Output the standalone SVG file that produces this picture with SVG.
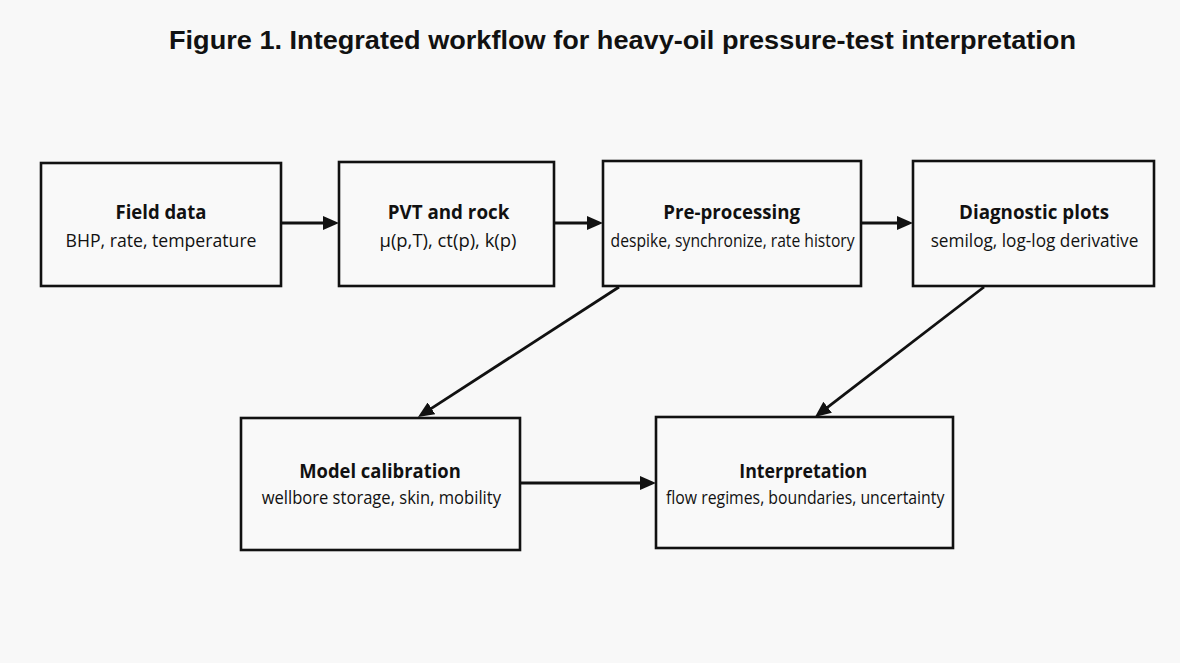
<svg xmlns="http://www.w3.org/2000/svg" width="1180" height="663" viewBox="0 0 1180 663">
<style>
.bg{fill:#f8f8f8}
.box{fill:#f9f9f9;stroke:#111;stroke-width:2.6}
.t{font-family:"Open Sans","Noto Sans",sans-serif;font-size:19.5px;font-weight:bold;fill:#111;text-anchor:middle}
.s{font-family:"Open Sans","Noto Sans",sans-serif;font-size:18.5px;fill:#111;text-anchor:middle}
.title{font-family:"Liberation Sans",Arial,sans-serif;font-size:26px;font-weight:bold;fill:#111;text-anchor:middle}
.c{stroke:#111;stroke-width:2.8;fill:none;marker-end:url(#ah)}
</style>
<defs>
<marker id="ah" markerUnits="userSpaceOnUse" markerWidth="16" markerHeight="14" refX="6" refY="7" orient="auto" viewBox="0 0 16 14">
<path d="M0,0 L16,7 L0,14 z" fill="#111"/>
</marker>
</defs>
<rect class="bg" x="0" y="0" width="1180" height="663"/>
<text class="title" x="622.5" y="49" textLength="907" lengthAdjust="spacingAndGlyphs">Figure 1. Integrated workflow for heavy-oil pressure-test interpretation</text>
<g id="connectors">
<line class="c" x1="281" y1="223" x2="329" y2="223"/>
<line class="c" x1="554" y1="223" x2="593" y2="223"/>
<line class="c" x1="861" y1="223" x2="903" y2="223"/>
<line class="c" x1="619" y1="287" x2="426.4" y2="411.6"/>
<line class="c" x1="984" y1="287" x2="822.9" y2="410.9"/>
<line class="c" x1="520" y1="483" x2="646" y2="483"/>
</g>
<g id="field-data">
<rect class="box" x="41" y="163" width="240" height="123"/>
<text class="t" x="161" y="219" textLength="91" lengthAdjust="spacingAndGlyphs">Field data</text>
<text class="s" x="161" y="246.5" textLength="191" lengthAdjust="spacingAndGlyphs">BHP, rate, temperature</text>
</g>
<g id="pvt-rock">
<rect class="box" x="339" y="162" width="215" height="124"/>
<text class="t" x="448.5" y="219" textLength="121.7" lengthAdjust="spacingAndGlyphs">PVT and rock</text>
<text class="s" x="448" y="246.5" textLength="137" lengthAdjust="spacingAndGlyphs">μ(p,T), ct(p), k(p)</text>
</g>
<g id="pre-processing">
<rect class="box" x="603" y="161" width="258" height="125"/>
<text class="t" x="731.7" y="219" textLength="136.7" lengthAdjust="spacingAndGlyphs">Pre-processing</text>
<text class="s" x="732.6" y="246.5" textLength="244" lengthAdjust="spacingAndGlyphs">despike, synchronize, rate history</text>
</g>
<g id="diagnostic-plots">
<rect class="box" x="913" y="161" width="241" height="125"/>
<text class="t" x="1034" y="219" textLength="150" lengthAdjust="spacingAndGlyphs">Diagnostic plots</text>
<text class="s" x="1034.5" y="246.5" textLength="207.7" lengthAdjust="spacingAndGlyphs">semilog, log-log derivative</text>
</g>
<g id="model-calibration">
<rect class="box" x="241" y="418" width="279" height="132"/>
<text class="t" x="380" y="478" textLength="161.7" lengthAdjust="spacingAndGlyphs">Model calibration</text>
<text class="s" x="381.3" y="504" textLength="239.3" lengthAdjust="spacingAndGlyphs">wellbore storage, skin, mobility</text>
</g>
<g id="interpretation">
<rect class="box" x="656" y="417" width="297" height="131"/>
<text class="t" x="803.3" y="478" textLength="128" lengthAdjust="spacingAndGlyphs">Interpretation</text>
<text class="s" x="805.2" y="504" textLength="278.3" lengthAdjust="spacingAndGlyphs">flow regimes, boundaries, uncertainty</text>
</g>
</svg>
